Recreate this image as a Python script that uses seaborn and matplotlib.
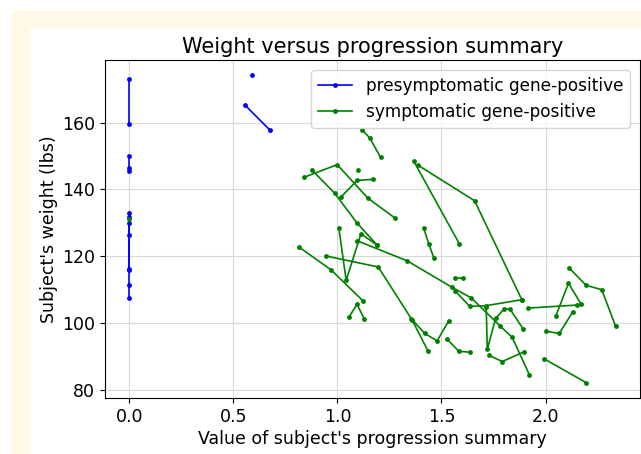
import numpy as np
import pandas as pd
import matplotlib
matplotlib.use("Agg")
import matplotlib.pyplot as plt
from matplotlib.lines import Line2D
from matplotlib.patches import Rectangle
import seaborn as sns

# presymptomatic gene-positive subjects (one line per subject)
pre_subject = [1, 1, 2, 2, 2, 3, 3, 3, 3, 4, 4, 4, 4, 5, 5, 6]
pre_progression = [0, 0, 0, 0, 0, 0, 0, 0, 0, 0, 0, 0, 0, 0.556, 0.676, 0.591]
pre_weight = [173.1, 159.6, 149.9, 146.3, 145.5, 132.8, 130.0, 126.3, 116.3,
              131.6, 116.0, 111.3, 107.4, 165.2, 157.7, 174.1]

# symptomatic gene-positive subjects
sym_subject = [10,
               11, 11, 11,
               12, 12, 12, 12,
               13, 13, 13, 13,
               14, 14, 14,
               15,
               16, 16, 16, 16,
               17, 17, 17,
               18, 18, 18, 18,
               19, 19, 19, 19,
               20, 20, 20,
               21, 21, 21,
               22, 22, 22,
               23, 23,
               24, 24,
               25, 25, 25,
               26, 26, 26, 26, 26, 26, 26,
               27, 27, 27, 27,
               28, 28, 28, 28, 28, 28,
               29, 29, 29,
               30, 30, 30, 30,
               31, 31, 31,
               32, 32,
               33, 33, 33,
               34, 34]
sym_progression = [0.0,
                   1.119, 1.156, 1.207,
                   0.839, 0.999, 1.146, 1.279,
                   0.876, 0.986, 1.095, 1.191,
                   1.015, 1.095, 1.170,
                   1.100,
                   1.007, 1.042, 1.113, 1.189,
                   0.814, 0.970, 1.122,
                   0.943, 1.196, 1.359, 1.435,
                   1.355, 1.420, 1.479, 1.535,
                   1.055, 1.094, 1.129,
                   1.415, 1.439, 1.463,
                   1.527, 1.583, 1.636,
                   1.564, 1.602,
                   1.367, 1.586,
                   1.388, 1.659, 1.886,
                   1.092, 1.336, 1.551, 1.644, 1.781, 1.840, 1.922,
                   1.567, 1.636, 1.712, 1.886,
                   1.715, 1.720, 1.760, 1.800, 1.829, 1.893,
                   1.728, 1.792, 1.896,
                   2.115, 2.195, 2.270, 2.337,
                   2.002, 2.066, 2.130,
                   1.994, 2.195,
                   2.050, 2.110, 2.171,
                   1.915, 2.150]
sym_weight = [131.2,
              157.8, 155.3, 149.6,
              143.6, 147.4, 137.4, 131.3,
              145.9, 138.9, 129.9, 123.3,
              137.6, 142.7, 143.0,
              145.8,
              128.3, 112.8, 126.7, 123.4,
              122.8, 115.9, 106.7,
              120.1, 116.8, 100.9, 91.7,
              101.3, 96.9, 94.7, 100.7,
              101.7, 105.7, 101.2,
              128.3, 123.7, 119.5,
              95.2, 91.6, 91.3,
              113.6, 113.6,
              148.4, 123.7,
              147.2, 136.6, 107.0,
              124.7, 118.6, 110.7, 107.5, 99.2, 95.7, 84.6,
              109.5, 105.0, 105.2, 107.0,
              104.8, 92.2, 101.4, 104.2, 104.2, 98.2,
              90.4, 88.5, 91.4,
              116.4, 111.3, 110.0, 99.0,
              97.6, 96.9, 103.3,
              89.3, 82.2,
              102.2, 111.9, 105.7,
              104.5, 105.4]

groups = ["presymptomatic gene-positive", "symptomatic gene-positive"]
colors = {groups[0]: "blue", groups[1]: "green"}

df = pd.concat([
    pd.DataFrame({"subject": pre_subject, "progression": pre_progression,
                  "weight": pre_weight, "group": groups[0]}),
    pd.DataFrame({"subject": sym_subject, "progression": sym_progression,
                  "weight": sym_weight, "group": groups[1]}),
], ignore_index=True)

fig = plt.figure(figsize=(6.41, 4.54), dpi=100, facecolor="white")
# cream page frame behind the white figure area
fig.patches.append(Rectangle((12 / 641, 0), 1, 444 / 454, transform=fig.transFigure,
                             facecolor="#fff9e6", edgecolor="none", zorder=-2))
fig.patches.append(Rectangle((30 / 641, 0), 1, 426 / 454, transform=fig.transFigure,
                             facecolor="white", edgecolor="none", zorder=-1))

ax = fig.add_axes([105 / 641, 56 / 454, 535 / 641, 338 / 454])
ax.grid(True, color="#d9d9d9", linewidth=0.8)
ax.set_axisbelow(True)

sns.lineplot(data=df, x="progression", y="weight", hue="group", units="subject",
             estimator=None, sort=False, palette=colors, marker=".", markersize=7,
             markeredgewidth=0, linewidth=1.2, legend=False, ax=ax)

ax.set_xticks([0.0, 0.5, 1.0, 1.5, 2.0])
ax.set_yticks([80, 100, 120, 140, 160])
ax.tick_params(labelsize=12.5)
ax.set_title("Weight versus progression summary", fontsize=15, pad=5)
ax.set_xlabel("Value of subject's progression summary", fontsize=12.5, labelpad=3)
ax.set_ylabel("Subject's weight (lbs)", fontsize=12.5, labelpad=3)

handles = [Line2D([], [], color=colors[g], marker=".", markersize=7,
                  markeredgewidth=0, linewidth=1.2) for g in groups]
ax.legend(handles, groups, loc="upper right", fontsize=12.2, borderaxespad=0.6)

fig.savefig("out.png", dpi=100)
